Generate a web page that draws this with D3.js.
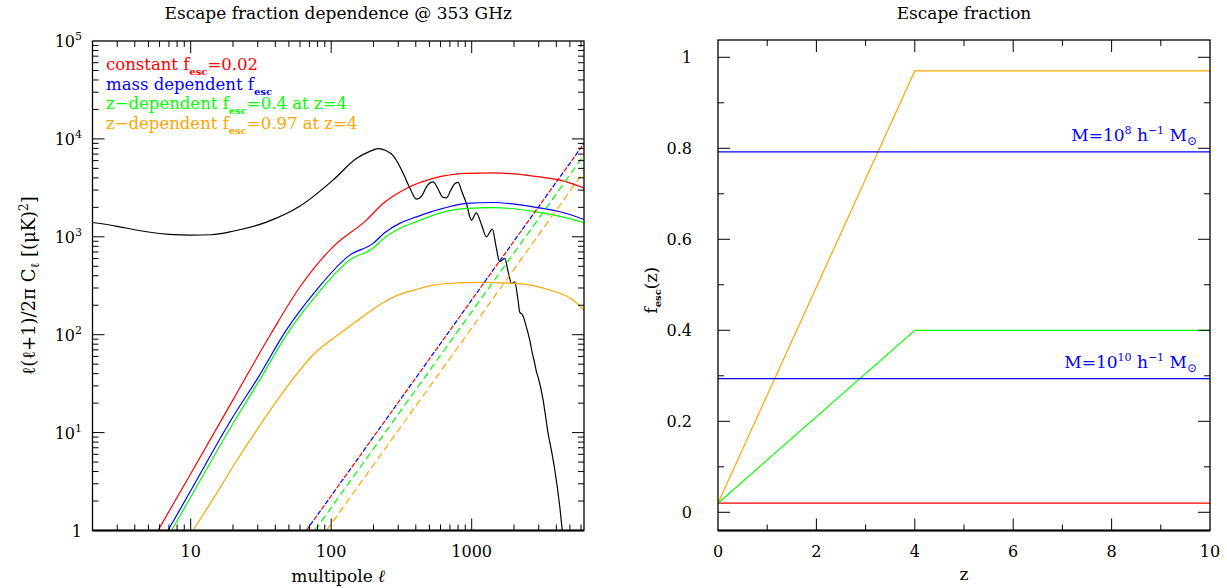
<!DOCTYPE html>
<html>
<head>
<meta charset="utf-8">
<script src="https://cdn.jsdelivr.net/npm/d3@7/dist/d3.min.js"></script>
<style>
body { margin: 0; background: #fff; }
text { font-family: "DejaVu Serif", serif; fill: #000; }
</style>
</head>
<body>
<div id="chart"></div>
<script>
//
// Escape fraction figure: power spectra (left) and f_esc(z) (right)
//

// ---- left panel data: multipole l and l(l+1)/2pi C_l [(uK)^2] ----
var cmbL = [2, 3, 4, 5, 7, 10, 14, 20, 35, 60, 103, 151, 190, 215, 245, 275, 300, 325, 365, 405, 440, 480, 531, 575, 620, 661, 710, 760, 800, 850, 917, 995, 1079, 1170, 1271, 1402, 1490, 1581, 1717, 1830, 1915, 2021, 2137, 2196, 2300, 2450, 2590, 2700, 2800, 2888, 3000, 3222, 3350, 3494, 3700, 3900, 4234, 4420, 4500];
var cmbV = [1400, 1280, 1180, 1120, 1060, 1040, 1050, 1140, 1420, 2060, 3790, 6300, 7500, 7950, 7600, 6800, 5600, 4450, 3100, 2420, 2600, 3300, 3640, 3100, 2550, 2500, 3000, 3500, 3590, 2900, 2190, 1480, 1758, 1350, 1000, 1197, 800, 556, 602, 420, 334, 347, 226, 170, 160, 120, 88, 65, 52, 42, 35, 21.6, 15, 9.9, 6.5, 4.2, 1.76, 1, 0.85];

var constL = [5.85, 10, 20, 37.5, 60, 103, 178, 234, 343, 531, 917, 1418, 2736, 4720, 6300];
var constV = [1, 3.8, 21.6, 104, 309, 790, 1480, 2190, 3120, 3950, 4440, 4500, 4170, 3640, 3150];

var massL = [6.89, 10, 20, 30, 48, 78.5, 135.5, 199, 240, 307, 405, 625, 917, 1418, 2736, 4720, 6300];
var massV = [1, 2.55, 14.5, 36, 112, 286, 650, 857, 1100, 1372, 1600, 1950, 2190, 2240, 2020, 1730, 1500];

var zdep04L = [7.3, 10, 20, 30, 50.7, 78.5, 135.5, 199, 240, 307, 405, 625, 917, 1418, 2736, 4720, 6300];
var zdep04V = [1, 2.2, 12.4, 32, 112, 254, 578, 770, 980, 1216, 1430, 1790, 1950, 1990, 1820, 1560, 1390];

var zdep097L = [10.4, 15, 20, 30, 43, 74.3, 128, 180, 234, 261, 307, 405, 531, 800, 1206, 2070, 3590, 5260, 6300];
var zdep097V = [1, 2.3, 4.5, 11, 23.3, 62, 115, 165, 212, 232, 258, 290, 321, 338, 343, 334, 286, 226, 178];

// dashed (shot noise) lines, end points
var shotConstL = [66.5, 6300];  var shotConstV = [1, 8980];
var shotMassL = [66.5, 6300];   var shotMassV = [1, 8980];
var shot04L = [76.4, 6300];     var shot04V = [1, 6800];
var shot097L = [92.5, 6300];    var shot097V = [1, 4640];

var xTickLabels = [10, 100, 1000];
var yTickPowers = [0, 1, 2, 3, 4, 5];

// ---- right panel data: z and f_esc(z) ----
var zConst = [0, 10];     var fConst = [0.02, 0.02];
var z04 = [0, 4, 10];     var f04 = [0.02, 0.4, 0.4];
var z097 = [0, 4, 10];    var f097 = [0.02, 0.97, 0.97];
var massLevels = [0.792, 0.294];
var massExp = ["8", "10"];
var zTicks = [0, 2, 4, 6, 8, 10];
var fTicks = [0, 0.2, 0.4, 0.6, 0.8, 1];

var RED = "#ff0000", BLUE = "#0000ff", GREEN = "#00ff00", ORANGE = "#ffa500";

var svg = d3.select("#chart")
    .append("svg")
    .attr("width", 1227)
    .attr("height", 588);

// ======================= left panel =======================
var P = { left: 92.5, right: 584, top: 41, bottom: 530.5 };

var x = d3.scaleLog().domain([2, 6300]).range([P.left, P.right]);
var y = d3.scaleLog().domain([1, 1e5]).range([P.bottom, P.top]);

svg.append("clipPath").attr("id", "clipL")
    .append("rect")
    .attr("x", P.left).attr("y", P.top)
    .attr("width", P.right - P.left).attr("height", P.bottom - P.top);

var gL = svg.append("g").attr("clip-path", "url(#clipL)");

function drawCurve(g, xs, ys, sx, sy, color, curve, dash, offset) {
    var pts = xs.map(function (v, i) { return [v, ys[i]]; });
    var line = d3.line()
        .x(function (d) { return sx(d[0]); })
        .y(function (d) { return sy(d[1]); })
        .curve(curve || d3.curveLinear);
    var p = g.append("path")
        .attr("d", line(pts))
        .attr("fill", "none")
        .attr("stroke", color)
        .attr("stroke-width", 1.2);
    if (dash) {
        p.attr("stroke-dasharray", dash);
        if (offset) p.attr("stroke-dashoffset", offset);
    }
    return p;
}

var smooth = d3.curveMonotoneX;
drawCurve(gL, cmbL, cmbV, x, y, "#000", smooth);
drawCurve(gL, constL, constV, x, y, RED, smooth);
drawCurve(gL, massL, massV, x, y, BLUE, smooth);
drawCurve(gL, zdep04L, zdep04V, x, y, GREEN, smooth);
drawCurve(gL, zdep097L, zdep097V, x, y, ORANGE, smooth);

drawCurve(gL, shot097L, shot097V, x, y, ORANGE, null, "7,4");
drawCurve(gL, shot04L, shot04V, x, y, GREEN, null, "7,4");
// red and blue dashes alternate along the same line
drawCurve(gL, shotConstL, shotConstV, x, y, RED, null, "5,8");
drawCurve(gL, shotMassL, shotMassV, x, y, BLUE, null, "5,8", 6.5);

// frame
svg.append("rect")
    .attr("x", P.left).attr("y", P.top)
    .attr("width", P.right - P.left).attr("height", P.bottom - P.top)
    .attr("fill", "none").attr("stroke", "#000").attr("stroke-width", 1.3);
svg.append("line")
    .attr("x1", P.left).attr("x2", P.right).attr("y1", P.bottom).attr("y2", P.bottom)
    .attr("stroke", "#000").attr("stroke-width", 2.2);

// log ticks
var ticksL = svg.append("g").attr("stroke", "#000").attr("stroke-width", 1);
[1, 10, 100, 1000].forEach(function (dec) {
    for (var k = 1; k <= 9; k++) {
        var v = k * dec;
        if (v <= 2 || v >= 6300) continue;
        var len = (k == 1) ? 12 : 6;
        var xx = x(v);
        ticksL.append("line").attr("x1", xx).attr("x2", xx).attr("y1", P.bottom).attr("y2", P.bottom - len);
        ticksL.append("line").attr("x1", xx).attr("x2", xx).attr("y1", P.top).attr("y2", P.top + len);
    }
});
[1, 10, 100, 1000, 10000].forEach(function (dec) {
    for (var k = 1; k <= 9; k++) {
        var v = k * dec;
        if (v <= 1 || v >= 1e5) continue;
        var len = (k == 1) ? 12 : 6;
        var yy = y(v);
        ticksL.append("line").attr("x1", P.left).attr("x2", P.left + len).attr("y1", yy).attr("y2", yy);
        ticksL.append("line").attr("x1", P.right).attr("x2", P.right - len).attr("y1", yy).attr("y2", yy);
    }
});

svg.selectAll(".xlabL")
    .data(xTickLabels)
    .enter().append("text")
    .attr("x", function (d) { return x(d); })
    .attr("y", 557)
    .style("text-anchor", "middle")
    .style("font-size", "16px")
    .text(function (d) { return d; });

yTickPowers.forEach(function (p) {
    var t = svg.append("text")
        .attr("x", 82)
        .attr("y", y(Math.pow(10, p)) + 6)
        .style("text-anchor", "end")
        .style("font-size", "16px");
    if (p == 0) {
        t.text("1");
    } else {
        t.append("tspan").text("10");
        t.append("tspan").attr("dy", -7).style("font-size", "11px").text(p);
    }
});

// titles and axis labels
svg.append("text")
    .attr("x", (P.left + P.right) / 2).attr("y", 19)
    .style("text-anchor", "middle").style("font-size", "17px")
    .text("Escape fraction dependence @ 353 GHz");

svg.append("text")
    .attr("x", (P.left + P.right) / 2).attr("y", 582)
    .style("text-anchor", "middle").style("font-size", "17px")
    .html("multipole <tspan font-style='italic'>ℓ</tspan>");

var ylab = svg.append("text")
    .attr("transform", "translate(35," + ((P.top + P.bottom) / 2) + ") rotate(-90)")
    .style("text-anchor", "middle").style("font-size", "18px");
ylab.append("tspan").text("ℓ(ℓ+1)/2π C");
ylab.append("tspan").attr("dy", 4).style("font-size", "12px").text("ℓ");
ylab.append("tspan").attr("dy", -4).text(" [(μK)");
ylab.append("tspan").attr("dy", -7).style("font-size", "12px").text("2");
ylab.append("tspan").attr("dy", 7).text("]");

// legend
var legendItems = [
    { pre: "constant f", post: "=0.02", color: RED },
    { pre: "mass dependent f", post: "", color: BLUE },
    { pre: "z\u2212dependent f", post: "=0.4 at z=4", color: GREEN },
    { pre: "z\u2212dependent f", post: "=0.97 at z=4", color: ORANGE }
];
legendItems.forEach(function (d, idx) {
    var t = svg.append("text")
        .attr("x", 106)
        .attr("y", 70 + idx * 19.7)
        .style("font-size", "16.5px")
        .style("fill", d.color);
    t.append("tspan").text(d.pre);
    t.append("tspan").attr("dy", 5).style("font-size", "10px").style("font-weight", "bold").text("esc");
    t.append("tspan").attr("dy", -5).text(d.post);
});

// ======================= right panel =======================
var R = { left: 718, right: 1210, top: 40, bottom: 530.5 };

var xz = d3.scaleLinear().domain([0, 10]).range([R.left, R.right]);
var yf = d3.scaleLinear().domain([-0.04, 1.038]).range([R.bottom, R.top]);

var gR = svg.append("g");
drawCurve(gR, zConst, fConst, xz, yf, RED);
drawCurve(gR, z04, f04, xz, yf, GREEN);
drawCurve(gR, z097, f097, xz, yf, ORANGE);

gR.selectAll(".mline")
    .data(massLevels)
    .enter().append("line")
    .attr("x1", R.left).attr("x2", R.right)
    .attr("y1", function (d) { return yf(d); })
    .attr("y2", function (d) { return yf(d); })
    .attr("stroke", BLUE).attr("stroke-width", 1.2);

massLevels.forEach(function (lev, idx) {
    var t = svg.append("text")
        .attr("x", 1197)
        .attr("y", yf(lev) - 11)
        .style("text-anchor", "end")
        .style("font-size", "17px")
        .style("fill", BLUE);
    t.append("tspan").text("M=10");
    t.append("tspan").attr("dy", -7).style("font-size", "11px").text(massExp[idx]);
    t.append("tspan").attr("dy", 7).text(" h");
    t.append("tspan").attr("dy", -7).style("font-size", "11px").text("\u22121");
    t.append("tspan").attr("dy", 7).text(" M");
    t.append("tspan").attr("dy", 4).style("font-size", "12px").text("\u2299");
});

svg.append("rect")
    .attr("x", R.left).attr("y", R.top)
    .attr("width", R.right - R.left).attr("height", R.bottom - R.top)
    .attr("fill", "none").attr("stroke", "#000").attr("stroke-width", 1.3);
svg.append("line")
    .attr("x1", R.left).attr("x2", R.right).attr("y1", R.bottom).attr("y2", R.bottom)
    .attr("stroke", "#000").attr("stroke-width", 2.2);

var ticksR = svg.append("g").attr("stroke", "#000").attr("stroke-width", 1);
for (var i = 1; i < 10; i++) {
    var len = (i % 2 == 0) ? 12 : 6;
    ticksR.append("line").attr("x1", xz(i)).attr("x2", xz(i)).attr("y1", R.bottom).attr("y2", R.bottom - len);
    ticksR.append("line").attr("x1", xz(i)).attr("x2", xz(i)).attr("y1", R.top).attr("y2", R.top + len);
}
for (var j = 0; j <= 10; j++) {
    var f = j / 10;
    var lenf = (j % 2 == 0) ? 12 : 6;
    ticksR.append("line").attr("x1", R.left).attr("x2", R.left + lenf).attr("y1", yf(f)).attr("y2", yf(f));
    ticksR.append("line").attr("x1", R.right).attr("x2", R.right - lenf).attr("y1", yf(f)).attr("y2", yf(f));
}

svg.selectAll(".xlabR")
    .data(zTicks)
    .enter().append("text")
    .attr("x", function (d) { return xz(d); })
    .attr("y", 557)
    .style("text-anchor", "middle")
    .style("font-size", "16px")
    .text(function (d) { return d; });

svg.selectAll(".ylabR")
    .data(fTicks)
    .enter().append("text")
    .attr("x", 692)
    .attr("y", function (d) { return yf(d) + 6; })
    .style("text-anchor", "end")
    .style("font-size", "16px")
    .text(function (d) { return d; });

svg.append("text")
    .attr("x", (R.left + R.right) / 2).attr("y", 19)
    .style("text-anchor", "middle").style("font-size", "17px")
    .text("Escape fraction");

svg.append("text")
    .attr("x", (R.left + R.right) / 2).attr("y", 580)
    .style("text-anchor", "middle").style("font-size", "17px")
    .text("z");

var flab = svg.append("text")
    .attr("transform", "translate(657," + ((R.top + R.bottom) / 2 + 5) + ") rotate(-90)")
    .style("text-anchor", "middle").style("font-size", "17px");
flab.append("tspan").text("f");
flab.append("tspan").attr("dy", 4).style("font-size", "10px").style("font-weight", "bold").text("esc");
flab.append("tspan").attr("dy", -4).text("(z)");
</script>
</body>
</html>
